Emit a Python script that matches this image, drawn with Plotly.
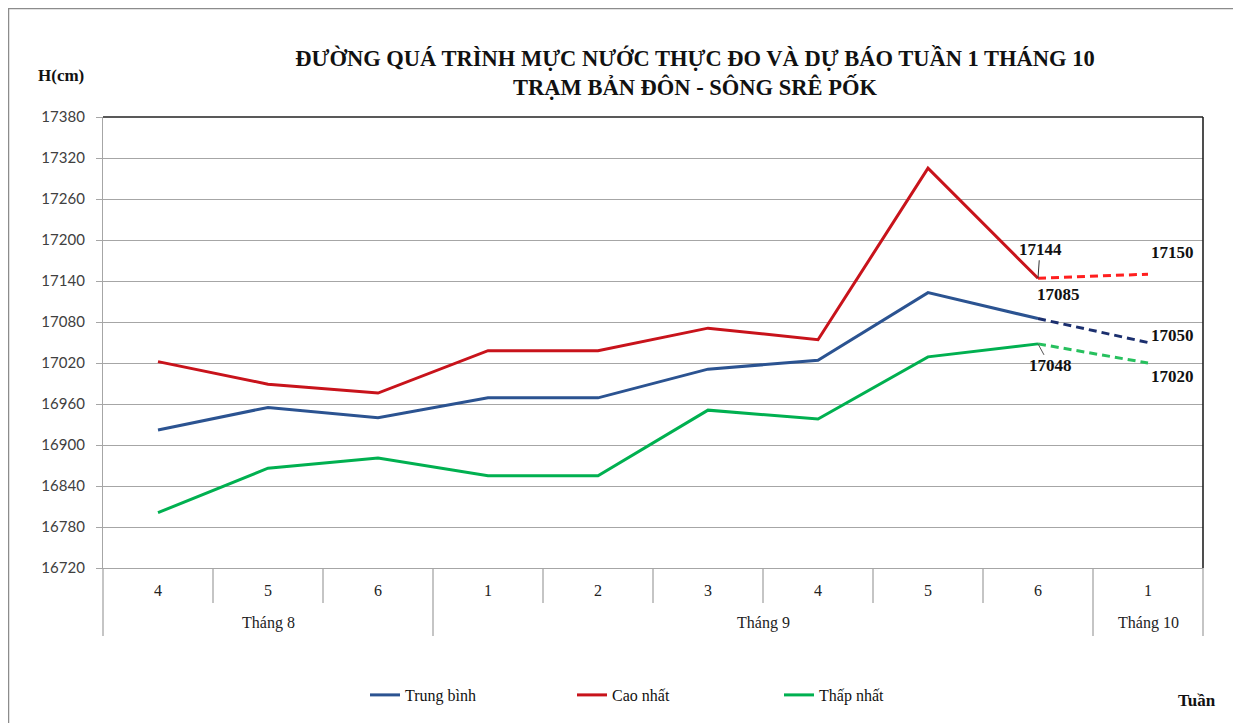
import plotly.graph_objects as go

# ---- data ----
weeks = ["4", "5", "6", "1", "2", "3", "4", "5", "6", "1"]
months = ["Tháng 8", "Tháng 8", "Tháng 8", "Tháng 9", "Tháng 9", "Tháng 9",
          "Tháng 9", "Tháng 9", "Tháng 9", "Tháng 10"]
trung_binh = [16922, 16955, 16940, 16969, 16969, 17011, 17024, 17123, 17085]
cao_nhat = [17022, 16989, 16976, 17038, 17038, 17071, 17054, 17305, 17144]
thap_nhat = [16801, 16866, 16881, 16855, 16855, 16951, 16938, 17029, 17048]
fc_trung_binh = [17085, 17050]
fc_cao_nhat = [17144, 17150]
fc_thap_nhat = [17048, 17020]
y_ticks = [16720, 16780, 16840, 16900, 16960, 17020, 17080, 17140, 17200, 17260, 17320, 17380]

n = len(weeks)
xs = list(range(n))
obs_x = xs[:len(trung_binh)]
fc_x = xs[len(trung_binh) - 1:]

C_BLUE, C_RED, C_GREEN = "#2B5391", "#C8131B", "#00B050"
C_BLUE_D, C_RED_D, C_GREEN_D = "#1B2F6E", "#FF1F1F", "#27C05E"
SERIF = "Liberation Serif, Times New Roman, serif"

fig = go.Figure()
fig.add_trace(go.Scatter(x=obs_x, y=trung_binh, mode="lines", name="Trung bình",
                         line=dict(color=C_BLUE, width=3)))
fig.add_trace(go.Scatter(x=obs_x, y=cao_nhat, mode="lines", name="Cao nhất",
                         line=dict(color=C_RED, width=3)))
fig.add_trace(go.Scatter(x=obs_x, y=thap_nhat, mode="lines", name="Thấp nhất",
                         line=dict(color=C_GREEN, width=3)))
fig.add_trace(go.Scatter(x=fc_x, y=fc_trung_binh, mode="lines", showlegend=False,
                         line=dict(color=C_BLUE_D, width=3, dash="8px,5px")))
fig.add_trace(go.Scatter(x=fc_x, y=fc_cao_nhat, mode="lines", showlegend=False,
                         line=dict(color=C_RED_D, width=3, dash="8px,5px")))
fig.add_trace(go.Scatter(x=fc_x, y=fc_thap_nhat, mode="lines", showlegend=False,
                         line=dict(color=C_GREEN_D, width=3, dash="8px,5px")))

# ---- value labels ----
lab = dict(font=dict(family=SERIF, size=17, color="#111111"), xref="x", yref="y")
last = len(trung_binh) - 1
fig.add_annotation(x=last, y=cao_nhat[-1], text="<b>%d</b>" % cao_nhat[-1], showarrow=True,
                   arrowhead=0, arrowwidth=1, arrowcolor="#333333", ax=2, ay=-29, **lab)
fig.add_annotation(x=last, y=thap_nhat[-1], text="<b>%d</b>" % thap_nhat[-1], showarrow=True,
                   arrowhead=0, arrowwidth=1, arrowcolor="#555555", ax=12, ay=22, **lab)
fig.add_annotation(x=last, y=trung_binh[-1], text="<b>%d</b>" % trung_binh[-1], showarrow=False,
                   xshift=20, yshift=24, **lab)
fig.add_annotation(x=n - 1, y=fc_cao_nhat[-1], text="<b>%d</b>" % fc_cao_nhat[-1], showarrow=False,
                   xshift=24, yshift=22, **lab)
fig.add_annotation(x=n - 1, y=fc_trung_binh[-1], text="<b>%d</b>" % fc_trung_binh[-1], showarrow=False,
                   xshift=24, yshift=7, **lab)
fig.add_annotation(x=n - 1, y=fc_thap_nhat[-1], text="<b>%d</b>" % fc_thap_nhat[-1], showarrow=False,
                   xshift=24, yshift=-13, **lab)

# ---- category table under the plot ----
plot_h = 451.0
row1 = -35 / plot_h
row2 = -68 / plot_h
shapes = []
group_bounds = [0]
for i in range(1, n):
    if months[i] != months[i - 1]:
        group_bounds.append(i)
group_bounds.append(n)
for k in range(n + 1):
    ybot = row2 if k in group_bounds else row1
    shapes.append(dict(type="line", xref="paper", yref="paper", x0=k / n, x1=k / n,
                       y0=0, y1=ybot, line=dict(color="#A6A6A6", width=1.3)))
# plot frame top/right
shapes.append(dict(type="line", xref="paper", yref="paper", x0=0, x1=1, y0=1, y1=1,
                   line=dict(color="#222222", width=1.6)))
shapes.append(dict(type="line", xref="paper", yref="paper", x0=1, x1=1, y0=0, y1=1,
                   line=dict(color="#222222", width=1.6)))
# outer chart border
shapes.append(dict(type="rect", xref="paper", yref="paper", x0=(8.5 - 103) / 1100, x1=1.2,
                   y0=-0.5, y1=(568 - 8.5) / plot_h, line=dict(color="#8C8C8C", width=1.5)))

for i, w in enumerate(weeks):
    fig.add_annotation(x=i, y=-22 / plot_h, xref="x", yref="paper", text=w, showarrow=False,
                       yanchor="middle", font=dict(family=SERIF, size=16, color="#222222"))
for g in range(len(group_bounds) - 1):
    a, b = group_bounds[g], group_bounds[g + 1]
    fig.add_annotation(x=(a + b - 1) / 2, y=-55 / plot_h, xref="x", yref="paper",
                       text=months[a], showarrow=False, yanchor="middle",
                       font=dict(family=SERIF, size=16, color="#222222"))

fig.add_annotation(x=(61 - 103) / 1100, y=(568 - 75) / plot_h, xref="paper", yref="paper",
                   text="<b>H(cm)</b>", showarrow=False, xanchor="center", yanchor="middle",
                   font=dict(family=SERIF, size=17, color="#111111"))
fig.add_annotation(x=(1197 - 103) / 1100, y=(568 - 700) / plot_h, xref="paper", yref="paper",
                   text="<b>Tuần</b>", showarrow=False, xanchor="center", yanchor="middle",
                   font=dict(family=SERIF, size=17, color="#111111"))

fig.update_layout(
    width=1233, height=715,
    margin=dict(l=95, r=38, t=109, b=155, autoexpand=False),
    paper_bgcolor="white", plot_bgcolor="white",
    title=dict(text="<b>ĐƯỜNG QUÁ TRÌNH MỰC NƯỚC THỰC ĐO VÀ DỰ BÁO TUẦN 1 THÁNG 10<br>"
                    "TRẠM BẢN ĐÔN - SÔNG SRÊ PỐK</b>",
               x=(695 - 103) / 1100, xref="paper", xanchor="center",
               y=1 - 57.5 / 715, yanchor="middle",
               font=dict(family=SERIF, size=22.5, color="#111111")),
    shapes=shapes,
    showlegend=True,
    legend=dict(orientation="h", x=(365 - 103) / 1100, xanchor="left",
                y=(568 - 695) / plot_h, yanchor="middle", entrywidth=162, entrywidthmode="pixels",
                font=dict(family=SERIF, size=16, color="#111111"), bgcolor="rgba(0,0,0,0)"),
    xaxis=dict(range=[-0.5, n - 0.5], showgrid=False, showticklabels=False, ticks="",
               showline=True, linecolor="#A6A6A6", linewidth=1.3, zeroline=False, fixedrange=True),
    yaxis=dict(range=[y_ticks[0], y_ticks[-1]], tickvals=y_ticks, tickformat="d", showgrid=True,
               gridcolor="#A6A6A6", gridwidth=1.3, showline=True, linecolor="#A6A6A6",
               linewidth=1.3, ticks="outside", ticklen=6, tickcolor="#A6A6A6",
               ticklabelstandoff=8, zeroline=False,
               tickfont=dict(family="Lato, Noto Sans, sans-serif", size=15, color="#404040")),
)

fig.write_html("out.html")
